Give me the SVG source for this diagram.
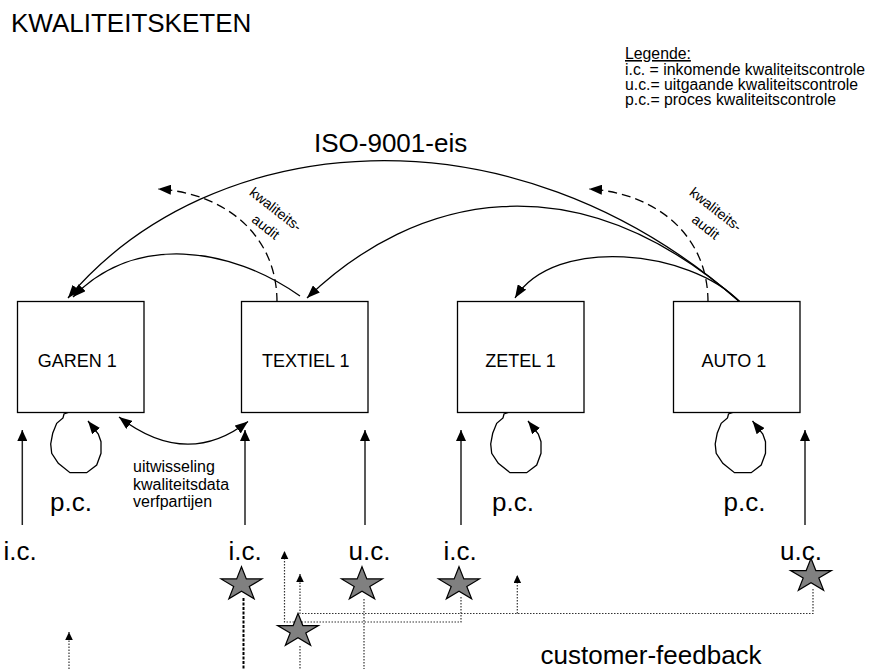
<svg xmlns="http://www.w3.org/2000/svg" width="874" height="669" viewBox="0 0 874 669">
<style>
.t{font-family:"Liberation Sans",Arial,sans-serif;fill:#000}
.big{font-size:26px}
.leg{font-size:15.8px}
.sm{font-size:16px}
.aud{font-size:14px;text-anchor:middle}
.lbl{font-size:18px;text-anchor:middle}
.box{fill:#fff;stroke:#000;stroke-width:1.3}
.arc{fill:none;stroke:#000;stroke-width:1.3}
.dash{fill:none;stroke:#000;stroke-width:1.3;stroke-dasharray:9 5}
.vert{fill:none;stroke:#222;stroke-width:1.5}
.dot{fill:none;stroke:#333;stroke-width:1.2;stroke-dasharray:1.5 1.5}
.heavy{fill:none;stroke:#000;stroke-width:2;stroke-dasharray:3 1.5}
.star{fill:#808080;stroke:#000;stroke-width:1.2}
</style>
<defs>
<marker id="ah" markerUnits="userSpaceOnUse" markerWidth="14" markerHeight="10" refX="13" refY="5" orient="auto"><path d="M0,0 L13,5 L0,10 z" fill="#000"/></marker>
<marker id="ah2" markerUnits="userSpaceOnUse" markerWidth="14" markerHeight="10" refX="13" refY="5" orient="auto-start-reverse"><path d="M0,0 L13,5 L0,10 z" fill="#000"/></marker>
<marker id="av" markerUnits="userSpaceOnUse" markerWidth="12" markerHeight="10" refX="11" refY="5" orient="auto"><path d="M0,0 L11,5 L0,10 z" fill="#000"/></marker>
<marker id="ad" markerUnits="userSpaceOnUse" markerWidth="9" markerHeight="8" refX="8" refY="3.8" orient="auto"><path d="M0,0 L8,3.8 L0,7.6 z" fill="#000"/></marker>
<path id="starp" d="M0,-17.7 L4.83,-5.47 L20.45,-5.47 L7.8,2.09 L12.64,14.32 L0,6.76 L-12.64,14.32 L-7.8,2.09 L-20.45,-5.47 L-4.83,-5.47 Z"/>
</defs>

<g id="labels">
<text class="t big" x="11" y="32">KWALITEITSKETEN</text>
<text class="t leg" x="625" y="59" text-decoration="underline">Legende:</text>
<text class="t leg" x="625" y="75">i.c. = inkomende kwaliteitscontrole</text>
<text class="t leg" x="625" y="90">u.c.= uitgaande kwaliteitscontrole</text>
<text class="t leg" x="625" y="105">p.c.= proces kwaliteitscontrole</text>
<text class="t big" x="314" y="152">ISO-9001-eis</text>
<g transform="translate(272.7,213.1) rotate(38)"><text class="t aud" x="0" y="0">kwaliteits-</text><text class="t aud" x="3" y="20">audit</text></g>
<g transform="translate(712.7,213.1) rotate(38)"><text class="t aud" x="0" y="0">kwaliteits-</text><text class="t aud" x="3" y="20">audit</text></g>
<text class="t sm" x="133" y="472">uitwisseling</text>
<text class="t sm" x="133" y="489.5">kwaliteitsdata</text>
<text class="t sm" x="133" y="507">verfpartijen</text>
<text class="t big" x="50" y="511">p.c.</text>
<text class="t big" x="492" y="511">p.c.</text>
<text class="t big" x="723.5" y="511">p.c.</text>
<text class="t big" x="3.5" y="560">i.c.</text>
<text class="t big" x="228.5" y="560">i.c.</text>
<text class="t big" x="348.5" y="560">u.c.</text>
<text class="t big" x="443.5" y="560">i.c.</text>
<text class="t big" x="780" y="560">u.c.</text>
<text class="t big" x="540.5" y="664">customer-feedback</text>
</g>

<g id="connectors">
<path class="arc" d="M740,302 C509,99 210,130 68,298" marker-end="url(#ah)"/>
<path class="arc" d="M740,302 C575,157 415,194 307,298" marker-end="url(#ah)"/>
<path class="arc" d="M740,302 C690,250 555,235 515,298" marker-end="url(#ah)"/>
<path class="arc" d="M300,296 C229.8,246.6 135,233.2 73,297" marker-end="url(#ah)"/>
<path class="dash" d="M277,302 C277,235 225,193 158,189" marker-end="url(#ah)"/>
<path class="dash" d="M708,302 C708,235 656,193 589,189" marker-end="url(#ah)"/>
<path class="arc" d="M119,417 Q186.5,469 248,421.5" marker-start="url(#ah2)" marker-end="url(#ah2)"/>
<path class="arc" d="M68.3,412.5 L64,414 L63,418 L56.7,423.3 L52.7,433.3 L50.7,444 L51.7,453.3 L58.3,463.3 L70,472.7 L86.7,472.7 L96.7,465 L101,453.3 L101,441.7 L98.3,434 L88,421" marker-end="url(#ah)"/>
<path class="arc" transform="translate(440,0)" d="M68.3,412.5 L64,414 L63,418 L56.7,423.3 L52.7,433.3 L50.7,444 L51.7,453.3 L58.3,463.3 L70,472.7 L86.7,472.7 L96.7,465 L101,453.3 L101,441.7 L98.3,434 L88,421" marker-end="url(#ah)"/>
<path class="arc" transform="translate(664.5,0)" d="M68.3,412.5 L64,414 L63,418 L56.7,423.3 L52.7,433.3 L50.7,444 L51.7,453.3 L58.3,463.3 L70,472.7 L86.7,472.7 L96.7,465 L101,453.3 L101,441.7 L98.3,434 L88,421" marker-end="url(#ah)"/>
<path class="vert" d="M22.3,525 V430" marker-end="url(#av)"/>
<path class="vert" d="M245,525 V430" marker-end="url(#av)"/>
<path class="vert" d="M365,525 V430" marker-end="url(#av)"/>
<path class="vert" d="M461,525 V430" marker-end="url(#av)"/>
<path class="vert" d="M805,525 V430" marker-end="url(#av)"/>
<path class="dot" d="M461,597 V622 H284.5 V551" marker-end="url(#ad)"/>
<path class="dot" d="M813,589 V613.5 H300 V574" marker-end="url(#ad)"/>
<path class="dot" d="M517.3,613.5 V575" marker-end="url(#ad)"/>
<path class="dot" d="M69,669 V632" marker-end="url(#ad)"/>
<path class="dot" d="M300,646 V669"/>
<path class="dot" d="M364,599 V669"/>
<path class="heavy" d="M243.5,598 V669"/>
</g>

<g id="garen"><rect class="box" x="17.5" y="301.5" width="126.5" height="111"/><text class="t lbl" x="77.3" y="367.3">GAREN 1</text></g>
<g id="textiel"><rect class="box" x="241.5" y="301.5" width="126.5" height="111"/><text class="t lbl" x="305.8" y="367.3">TEXTIEL 1</text></g>
<g id="zetel"><rect class="box" x="457.5" y="301.5" width="126.5" height="111"/><text class="t lbl" x="520.5" y="367.3">ZETEL 1</text></g>
<g id="auto"><rect class="box" x="673.5" y="301.5" width="126.5" height="111"/><text class="t lbl" x="733.8" y="367.3">AUTO 1</text></g>

<g id="stars">
<use href="#starp" class="star" x="241.5" y="584.4"/>
<use href="#starp" class="star" x="362" y="584.4"/>
<use href="#starp" class="star" x="459" y="584.4"/>
<use href="#starp" class="star" x="298" y="631"/>
<use href="#starp" class="star" x="811" y="576"/>
</g>
</svg>
